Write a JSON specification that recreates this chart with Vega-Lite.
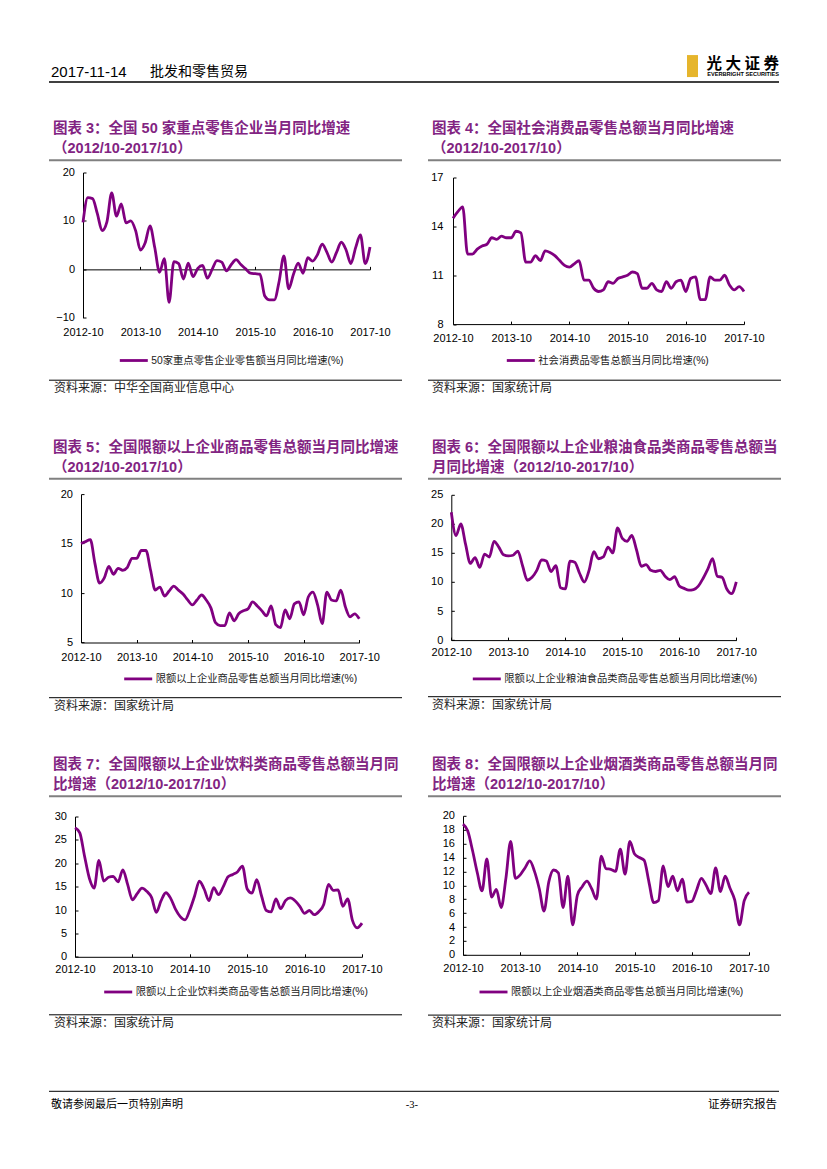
{
  "$schema": "https://vega.github.io/schema/vega-lite/v6.json",
  "background": "white",
  "padding": {"left": 48, "top": 55, "right": 40, "bottom": 30},
  "config": {
    "view": {"stroke": null},
    "font": "Liberation Sans, Noto Sans CJK SC",
    "axis": {"title": null, "grid": false, "domainColor": "#000000", "domainWidth": 1, "tickColor": "#000000", "tickWidth": 1, "tickSize": -3, "labelColor": "#000000", "labelFont": "Liberation Sans", "labelFontSize": 11, "labelOverlap": false},
    "axisX": {"labelAngle": 0, "labelPadding": 10.5},
    "axisY": {"labelPadding": 11.5, "minExtent": 0},
    "legend": {"symbolType": "stroke", "symbolSize": 784, "symbolStrokeWidth": 3, "labelFont": "Liberation Sans, Noto Sans CJK SC", "labelFontSize": 10.3, "labelColor": "#1a1a1a", "padding": 0, "labelOffset": 2, "labelLimit": 400},
    "title": {"anchor": "start", "frame": "group", "color": "#822482", "font": "Liberation Sans, Noto Sans CJK SC", "fontSize": 14.5, "fontWeight": "bold", "lineHeight": 20, "offset": 2.5, "dx": 4},
    "line": {"interpolate": "monotone", "strokeWidth": 2.8}
  },
  "datasets": {
    "c3": [{"m":"2012-10","v":9.7},{"m":"2012-11","v":14.8},{"m":"2012-12","v":14.6},{"m":"2013-01","v":11.5},{"m":"2013-02","v":8.0},{"m":"2013-03","v":9.8},{"m":"2013-04","v":15.8},{"m":"2013-05","v":11.0},{"m":"2013-06","v":13.5},{"m":"2013-07","v":9.6},{"m":"2013-08","v":10.0},{"m":"2013-09","v":8.0},{"m":"2013-10","v":4.0},{"m":"2013-11","v":5.5},{"m":"2013-12","v":9.0},{"m":"2014-01","v":4.5},{"m":"2014-02","v":-0.6},{"m":"2014-03","v":2.2},{"m":"2014-04","v":-6.8},{"m":"2014-05","v":1.6},{"m":"2014-06","v":1.2},{"m":"2014-07","v":-2.0},{"m":"2014-08","v":1.3},{"m":"2014-09","v":-1.5},{"m":"2014-10","v":0.2},{"m":"2014-11","v":0.8},{"m":"2014-12","v":-1.8},{"m":"2015-01","v":0.0},{"m":"2015-02","v":1.8},{"m":"2015-03","v":1.5},{"m":"2015-04","v":-0.3},{"m":"2015-05","v":1.0},{"m":"2015-06","v":2.0},{"m":"2015-07","v":1.0},{"m":"2015-08","v":0.1},{"m":"2015-09","v":-0.8},{"m":"2015-10","v":-0.9},{"m":"2015-11","v":-1.0},{"m":"2015-12","v":-5.5},{"m":"2016-01","v":-6.3},{"m":"2016-02","v":-6.3},{"m":"2016-03","v":-2.5},{"m":"2016-04","v":2.8},{"m":"2016-05","v":-4.0},{"m":"2016-06","v":-1.0},{"m":"2016-07","v":1.3},{"m":"2016-08","v":-0.8},{"m":"2016-09","v":2.4},{"m":"2016-10","v":1.7},{"m":"2016-11","v":3.0},{"m":"2016-12","v":5.2},{"m":"2017-01","v":3.5},{"m":"2017-02","v":1.5},{"m":"2017-03","v":3.5},{"m":"2017-04","v":5.6},{"m":"2017-05","v":4.0},{"m":"2017-06","v":1.2},{"m":"2017-07","v":4.5},{"m":"2017-08","v":7.1},{"m":"2017-09","v":1.2},{"m":"2017-10","v":4.6}],
    "c4": [{"m":"2012-10","v":14.5},{"m":"2012-11","v":14.9},{"m":"2012-12","v":15.2},{"m":"2013-01","v":12.3},{"m":"2013-02","v":12.3},{"m":"2013-03","v":12.6},{"m":"2013-04","v":12.8},{"m":"2013-05","v":12.9},{"m":"2013-06","v":13.3},{"m":"2013-07","v":13.2},{"m":"2013-08","v":13.4},{"m":"2013-09","v":13.3},{"m":"2013-10","v":13.3},{"m":"2013-11","v":13.7},{"m":"2013-12","v":13.6},{"m":"2014-01","v":11.8},{"m":"2014-02","v":11.8},{"m":"2014-03","v":12.2},{"m":"2014-04","v":11.9},{"m":"2014-05","v":12.5},{"m":"2014-06","v":12.4},{"m":"2014-07","v":12.2},{"m":"2014-08","v":11.9},{"m":"2014-09","v":11.6},{"m":"2014-10","v":11.5},{"m":"2014-11","v":11.7},{"m":"2014-12","v":11.9},{"m":"2015-01","v":10.7},{"m":"2015-02","v":10.7},{"m":"2015-03","v":10.2},{"m":"2015-04","v":10.0},{"m":"2015-05","v":10.1},{"m":"2015-06","v":10.6},{"m":"2015-07","v":10.5},{"m":"2015-08","v":10.8},{"m":"2015-09","v":10.9},{"m":"2015-10","v":11.0},{"m":"2015-11","v":11.2},{"m":"2015-12","v":11.1},{"m":"2016-01","v":10.2},{"m":"2016-02","v":10.2},{"m":"2016-03","v":10.5},{"m":"2016-04","v":10.1},{"m":"2016-05","v":10.0},{"m":"2016-06","v":10.6},{"m":"2016-07","v":10.2},{"m":"2016-08","v":10.6},{"m":"2016-09","v":10.7},{"m":"2016-10","v":10.0},{"m":"2016-11","v":10.8},{"m":"2016-12","v":10.9},{"m":"2017-01","v":9.5},{"m":"2017-02","v":9.5},{"m":"2017-03","v":10.9},{"m":"2017-04","v":10.7},{"m":"2017-05","v":10.7},{"m":"2017-06","v":11.0},{"m":"2017-07","v":10.4},{"m":"2017-08","v":10.1},{"m":"2017-09","v":10.3},{"m":"2017-10","v":10.0}],
    "c5": [{"m":"2012-10","v":15.0},{"m":"2012-11","v":15.2},{"m":"2012-12","v":15.4},{"m":"2013-01","v":13.0},{"m":"2013-02","v":11.0},{"m":"2013-03","v":11.5},{"m":"2013-04","v":12.7},{"m":"2013-05","v":11.9},{"m":"2013-06","v":12.5},{"m":"2013-07","v":12.3},{"m":"2013-08","v":12.6},{"m":"2013-09","v":13.5},{"m":"2013-10","v":13.5},{"m":"2013-11","v":14.3},{"m":"2013-12","v":14.3},{"m":"2014-01","v":12.3},{"m":"2014-02","v":10.3},{"m":"2014-03","v":10.6},{"m":"2014-04","v":9.7},{"m":"2014-05","v":10.2},{"m":"2014-06","v":10.7},{"m":"2014-07","v":10.3},{"m":"2014-08","v":9.9},{"m":"2014-09","v":9.3},{"m":"2014-10","v":8.8},{"m":"2014-11","v":9.3},{"m":"2014-12","v":9.8},{"m":"2015-01","v":9.3},{"m":"2015-02","v":8.5},{"m":"2015-03","v":7.0},{"m":"2015-04","v":6.7},{"m":"2015-05","v":6.7},{"m":"2015-06","v":8.0},{"m":"2015-07","v":7.2},{"m":"2015-08","v":7.9},{"m":"2015-09","v":8.2},{"m":"2015-10","v":8.4},{"m":"2015-11","v":9.1},{"m":"2015-12","v":8.7},{"m":"2016-01","v":8.2},{"m":"2016-02","v":7.7},{"m":"2016-03","v":8.7},{"m":"2016-04","v":6.8},{"m":"2016-05","v":6.5},{"m":"2016-06","v":8.3},{"m":"2016-07","v":7.4},{"m":"2016-08","v":8.9},{"m":"2016-09","v":9.1},{"m":"2016-10","v":7.8},{"m":"2016-11","v":9.6},{"m":"2016-12","v":10.1},{"m":"2017-01","v":8.8},{"m":"2017-02","v":6.9},{"m":"2017-03","v":10.1},{"m":"2017-04","v":9.3},{"m":"2017-05","v":9.2},{"m":"2017-06","v":10.3},{"m":"2017-07","v":8.6},{"m":"2017-08","v":7.6},{"m":"2017-09","v":7.9},{"m":"2017-10","v":7.4}],
    "c6": [{"m":"2012-10","v":22.0},{"m":"2012-11","v":18.0},{"m":"2012-12","v":20.0},{"m":"2013-01","v":16.5},{"m":"2013-02","v":13.2},{"m":"2013-03","v":14.2},{"m":"2013-04","v":12.5},{"m":"2013-05","v":14.8},{"m":"2013-06","v":14.3},{"m":"2013-07","v":17.0},{"m":"2013-08","v":16.0},{"m":"2013-09","v":14.7},{"m":"2013-10","v":14.5},{"m":"2013-11","v":14.6},{"m":"2013-12","v":15.3},{"m":"2014-01","v":12.8},{"m":"2014-02","v":10.3},{"m":"2014-03","v":10.8},{"m":"2014-04","v":12.0},{"m":"2014-05","v":13.8},{"m":"2014-06","v":13.6},{"m":"2014-07","v":11.8},{"m":"2014-08","v":12.8},{"m":"2014-09","v":9.0},{"m":"2014-10","v":8.8},{"m":"2014-11","v":13.6},{"m":"2014-12","v":13.4},{"m":"2015-01","v":11.5},{"m":"2015-02","v":10.0},{"m":"2015-03","v":12.0},{"m":"2015-04","v":15.2},{"m":"2015-05","v":14.0},{"m":"2015-06","v":14.3},{"m":"2015-07","v":16.0},{"m":"2015-08","v":15.0},{"m":"2015-09","v":19.3},{"m":"2015-10","v":17.5},{"m":"2015-11","v":17.0},{"m":"2015-12","v":18.0},{"m":"2016-01","v":15.5},{"m":"2016-02","v":12.7},{"m":"2016-03","v":13.0},{"m":"2016-04","v":12.0},{"m":"2016-05","v":11.8},{"m":"2016-06","v":12.0},{"m":"2016-07","v":11.0},{"m":"2016-08","v":10.4},{"m":"2016-09","v":10.9},{"m":"2016-10","v":9.3},{"m":"2016-11","v":8.9},{"m":"2016-12","v":8.6},{"m":"2017-01","v":8.7},{"m":"2017-02","v":9.3},{"m":"2017-03","v":10.6},{"m":"2017-04","v":12.2},{"m":"2017-05","v":14.0},{"m":"2017-06","v":11.0},{"m":"2017-07","v":10.8},{"m":"2017-08","v":8.8},{"m":"2017-09","v":8.0},{"m":"2017-10","v":10.0}],
    "c7": [{"m":"2012-10","v":27.6},{"m":"2012-11","v":26.5},{"m":"2012-12","v":21.5},{"m":"2013-01","v":16.8},{"m":"2013-02","v":14.7},{"m":"2013-03","v":20.6},{"m":"2013-04","v":16.2},{"m":"2013-05","v":17.0},{"m":"2013-06","v":17.2},{"m":"2013-07","v":16.0},{"m":"2013-08","v":18.6},{"m":"2013-09","v":15.5},{"m":"2013-10","v":12.2},{"m":"2013-11","v":13.5},{"m":"2013-12","v":14.7},{"m":"2014-01","v":14.0},{"m":"2014-02","v":12.7},{"m":"2014-03","v":9.5},{"m":"2014-04","v":12.0},{"m":"2014-05","v":13.7},{"m":"2014-06","v":12.5},{"m":"2014-07","v":10.2},{"m":"2014-08","v":8.6},{"m":"2014-09","v":7.9},{"m":"2014-10","v":10.0},{"m":"2014-11","v":13.0},{"m":"2014-12","v":16.2},{"m":"2015-01","v":14.5},{"m":"2015-02","v":12.0},{"m":"2015-03","v":14.8},{"m":"2015-04","v":13.3},{"m":"2015-05","v":15.0},{"m":"2015-06","v":17.1},{"m":"2015-07","v":17.6},{"m":"2015-08","v":18.2},{"m":"2015-09","v":19.4},{"m":"2015-10","v":14.5},{"m":"2015-11","v":13.6},{"m":"2015-12","v":16.5},{"m":"2016-01","v":13.0},{"m":"2016-02","v":9.9},{"m":"2016-03","v":9.6},{"m":"2016-04","v":12.4},{"m":"2016-05","v":10.3},{"m":"2016-06","v":12.0},{"m":"2016-07","v":12.6},{"m":"2016-08","v":12.0},{"m":"2016-09","v":10.8},{"m":"2016-10","v":9.3},{"m":"2016-11","v":9.9},{"m":"2016-12","v":9.0},{"m":"2017-01","v":9.7},{"m":"2017-02","v":11.2},{"m":"2017-03","v":15.5},{"m":"2017-04","v":14.2},{"m":"2017-05","v":14.3},{"m":"2017-06","v":10.8},{"m":"2017-07","v":12.4},{"m":"2017-08","v":7.8},{"m":"2017-09","v":6.2},{"m":"2017-10","v":7.2}],
    "c8": [{"m":"2012-10","v":18.8},{"m":"2012-11","v":17.8},{"m":"2012-12","v":15.0},{"m":"2013-01","v":11.8},{"m":"2013-02","v":9.2},{"m":"2013-03","v":13.8},{"m":"2013-04","v":8.3},{"m":"2013-05","v":9.4},{"m":"2013-06","v":6.8},{"m":"2013-07","v":11.0},{"m":"2013-08","v":16.3},{"m":"2013-09","v":11.0},{"m":"2013-10","v":11.5},{"m":"2013-11","v":12.5},{"m":"2013-12","v":13.5},{"m":"2014-01","v":12.0},{"m":"2014-02","v":9.5},{"m":"2014-03","v":6.3},{"m":"2014-04","v":10.5},{"m":"2014-05","v":12.2},{"m":"2014-06","v":11.8},{"m":"2014-07","v":6.8},{"m":"2014-08","v":11.3},{"m":"2014-09","v":4.3},{"m":"2014-10","v":8.6},{"m":"2014-11","v":9.8},{"m":"2014-12","v":10.6},{"m":"2015-01","v":9.5},{"m":"2015-02","v":8.0},{"m":"2015-03","v":14.2},{"m":"2015-04","v":12.4},{"m":"2015-05","v":12.3},{"m":"2015-06","v":12.0},{"m":"2015-07","v":15.2},{"m":"2015-08","v":11.6},{"m":"2015-09","v":16.3},{"m":"2015-10","v":14.5},{"m":"2015-11","v":14.0},{"m":"2015-12","v":13.6},{"m":"2016-01","v":10.5},{"m":"2016-02","v":7.5},{"m":"2016-03","v":7.8},{"m":"2016-04","v":12.8},{"m":"2016-05","v":9.8},{"m":"2016-06","v":11.3},{"m":"2016-07","v":9.2},{"m":"2016-08","v":10.9},{"m":"2016-09","v":7.6},{"m":"2016-10","v":7.7},{"m":"2016-11","v":9.3},{"m":"2016-12","v":11.0},{"m":"2017-01","v":10.0},{"m":"2017-02","v":8.8},{"m":"2017-03","v":12.5},{"m":"2017-04","v":9.1},{"m":"2017-05","v":11.3},{"m":"2017-06","v":9.6},{"m":"2017-07","v":7.9},{"m":"2017-08","v":4.3},{"m":"2017-09","v":7.8},{"m":"2017-10","v":9.0}]
  },
  "resolve": {"scale": {"x": "independent", "y": "independent", "color": "independent"}, "legend": {"color": "independent"}},
  "spacing": 38.3,
  "vconcat": [
    {
      "width": 730, "height": 27,
      "layer": [
        {"data": {"values": [{}]}, "mark": {"type": "rule", "color": "#000000", "strokeWidth": 1.5}, "encoding": {"y": {"datum": 0, "type": "quantitative", "scale": {"domain": [0, 1]}, "axis": null}}},
        {"data": {"values": [{"t": "2017-11-14"}]}, "mark": {"type": "text", "align": "left", "baseline": "middle", "font": "Liberation Sans", "fontSize": 15, "color": "#000000", "dx": 2}, "encoding": {"x": {"datum": 0, "type": "quantitative", "scale": {"domain": [0, 1]}, "axis": null}, "y": {"datum": 0.37, "type": "quantitative"}, "text": {"field": "t"}}},
        {"data": {"values": [{"t": "批发和零售贸易"}]}, "mark": {"type": "text", "align": "left", "baseline": "middle", "font": "Noto Sans CJK SC", "fontSize": 14, "color": "#000000", "dx": 101}, "encoding": {"x": {"datum": 0, "type": "quantitative"}, "y": {"datum": 0.37, "type": "quantitative"}, "text": {"field": "t"}}},
        {"data": {"values": [{"t": "光大证券"}]}, "mark": {"type": "point", "shape": "M-0.5,-1H0.5V1H-0.5Z", "size": 484, "filled": true, "color": "#E6B52C", "opacity": 1}, "encoding": {"x": {"datum": 0.8815, "type": "quantitative"}, "y": {"datum": 0.59, "type": "quantitative"}}},
        {"data": {"values": [{"t": "光 大 证 券"}]}, "mark": {"type": "text", "align": "right", "baseline": "middle", "font": "Noto Sans CJK SC", "fontSize": 15.5, "fontWeight": "bold", "color": "#000000"}, "encoding": {"x": {"datum": 1, "type": "quantitative"}, "y": {"datum": 0.68, "type": "quantitative"}, "text": {"field": "t"}}},
        {"data": {"values": [{"t": "EVERBRIGHT SECURITIES"}]}, "mark": {"type": "text", "align": "right", "baseline": "middle", "font": "Liberation Sans", "fontSize": 5.6, "fontWeight": "bold", "color": "#000000"}, "encoding": {"x": {"datum": 1, "type": "quantitative"}, "y": {"datum": 0.29, "type": "quantitative"}, "text": {"field": "t"}}}
      ]
    },
    {
      "resolve": {"scale": {"x": "independent", "y": "independent", "color": "independent"}, "legend": {"color": "independent"}},
      "spacing": 61,
      "vconcat": [
        {
          "resolve": {"scale": {"x": "independent", "y": "independent", "color": "independent"}, "legend": {"color": "independent"}},
          "spacing": 45.5,
          "vconcat": [
            {
              "resolve": {"scale": {"x": "independent", "y": "independent", "color": "independent"}, "legend": {"color": "independent"}},
              "spacing": 24,
              "hconcat": [
                {
                  "columns": 1, "spacing": 5.2,
                  "resolve": {"scale": {"x": "independent", "y": "independent", "color": "independent"}, "legend": {"color": "independent"}},
                  "concat": [
                    {"data": {"values": [{}]}, "width": 353, "height": 1, "title": {"text": ["图表 3：全国 50 家重点零售企业当月同比增速", "（2012/10-2017/10）"]}, "mark": {"type": "rule", "color": "#808080", "strokeWidth": 2}, "encoding": {"y": {"datum": 0, "type": "quantitative", "scale": {"domain": [0, 1]}, "axis": null}}},
                    {
                      "columns": 1, "spacing": 11.7,
                      "resolve": {"scale": {"x": "independent", "y": "independent", "color": "independent"}, "legend": {"color": "independent"}},
                      "concat": [
                        {
                          "data": {"name": "c3"}, "width": 353, "height": 145.3, "mark": "line",
                          "encoding": {
                            "x": {"field": "m", "type": "ordinal", "scale": {"type": "point", "padding": 0, "range": [34, 321]}, "axis": {"values": ["2012-10", "2013-10", "2014-10", "2015-10", "2016-10", "2017-10"], "offset": -48.43, "labelPadding": 59.7}},
                            "y": {"field": "v", "type": "quantitative", "scale": {"domain": [-10, 20], "nice": false, "zero": false}, "axis": {"values": [-10, 0, 10, 20], "offset": -34}},
                            "color": {"datum": "50家重点零售企业零售额当月同比增速(%)", "type": "nominal", "scale": {"range": ["#800080"]}, "legend": {"orient": "none", "legendX": 69.3, "legendY": 172.5, "title": null}}
                          }
                        },
                        {"data": {"values": [{}]}, "width": 353, "height": 2, "title": {"text": "资料来源：中华全国商业信息中心", "orient": "bottom", "font": "Noto Sans CJK SC", "fontSize": 12, "fontWeight": "normal", "color": "#222222", "offset": 1, "dx": 5}, "mark": {"type": "rule", "color": "#000000", "strokeWidth": 1}, "encoding": {"y": {"datum": 1, "type": "quantitative", "scale": {"domain": [0, 1]}, "axis": null}}}
                      ]
                    }
                  ]
                },
                {
                  "columns": 1, "spacing": 10.2,
                  "resolve": {"scale": {"x": "independent", "y": "independent", "color": "independent"}, "legend": {"color": "independent"}},
                  "concat": [
                    {"data": {"values": [{}]}, "width": 353, "height": 1, "title": {"text": ["图表 4：全国社会消费品零售总额当月同比增速", "（2012/10-2017/10）"]}, "mark": {"type": "rule", "color": "#808080", "strokeWidth": 2}, "encoding": {"y": {"datum": 0, "type": "quantitative", "scale": {"domain": [0, 1]}, "axis": null}}},
                    {
                      "columns": 1, "spacing": 11.7,
                      "resolve": {"scale": {"x": "independent", "y": "independent", "color": "independent"}, "legend": {"color": "independent"}},
                      "concat": [
                        {
                          "data": {"name": "c4"}, "width": 353, "height": 146.6, "mark": "line",
                          "encoding": {
                            "x": {"field": "m", "type": "ordinal", "scale": {"type": "point", "padding": 0, "range": [25, 316]}, "axis": {"values": ["2012-10", "2013-10", "2014-10", "2015-10", "2016-10", "2017-10"], "labelPadding": 11}},
                            "y": {"field": "v", "type": "quantitative", "scale": {"domain": [8, 17], "nice": false, "zero": false}, "axis": {"values": [8, 11, 14, 17], "offset": -25, "labelPadding": 13}},
                            "color": {"datum": "社会消费品零售总额当月同比增速(%)", "type": "nominal", "scale": {"range": ["#800080"]}, "legend": {"orient": "none", "legendX": 77.3, "legendY": 167.5, "title": null}}
                          }
                        },
                        {"data": {"values": [{}]}, "width": 353, "height": 2, "title": {"text": "资料来源：国家统计局", "orient": "bottom", "font": "Noto Sans CJK SC", "fontSize": 12, "fontWeight": "normal", "color": "#222222", "offset": 1, "dx": 4}, "mark": {"type": "rule", "color": "#000000", "strokeWidth": 1}, "encoding": {"y": {"datum": 1, "type": "quantitative", "scale": {"domain": [0, 1]}, "axis": null}}}
                      ]
                    }
                  ]
                }
              ]
            },
            {
              "resolve": {"scale": {"x": "independent", "y": "independent", "color": "independent"}, "legend": {"color": "independent"}},
              "spacing": 24,
              "hconcat": [
                {
                  "columns": 1, "spacing": 8.3,
                  "resolve": {"scale": {"x": "independent", "y": "independent", "color": "independent"}, "legend": {"color": "independent"}},
                  "concat": [
                    {"data": {"values": [{}]}, "width": 353, "height": 1, "title": {"text": ["图表 5：全国限额以上企业商品零售总额当月同比增速", "（2012/10-2017/10）"]}, "mark": {"type": "rule", "color": "#808080", "strokeWidth": 2}, "encoding": {"y": {"datum": 0, "type": "quantitative", "scale": {"domain": [0, 1]}, "axis": null}}},
                    {
                      "columns": 1, "spacing": 10.6,
                      "resolve": {"scale": {"x": "independent", "y": "independent", "color": "independent"}, "legend": {"color": "independent"}},
                      "concat": [
                        {
                          "data": {"name": "c5"}, "width": 353, "height": 148.4, "mark": "line",
                          "encoding": {
                            "x": {"field": "m", "type": "ordinal", "scale": {"type": "point", "padding": 0, "range": [32, 310.3]}, "axis": {"values": ["2012-10", "2013-10", "2014-10", "2015-10", "2016-10", "2017-10"], "labelPadding": 11.6}},
                            "y": {"field": "v", "type": "quantitative", "scale": {"domain": [5, 20], "nice": false, "zero": false}, "axis": {"values": [5, 10, 15, 20], "offset": -32}},
                            "color": {"datum": "限额以上企业商品零售总额当月同比增速(%)", "type": "nominal", "scale": {"range": ["#800080"]}, "legend": {"orient": "none", "legendX": 73.7, "legendY": 169.3, "title": null}}
                          }
                        },
                        {"data": {"values": [{}]}, "width": 353, "height": 2, "title": {"text": "资料来源：国家统计局", "orient": "bottom", "font": "Noto Sans CJK SC", "fontSize": 12, "fontWeight": "normal", "color": "#222222", "offset": 1, "dx": 5}, "mark": {"type": "rule", "color": "#000000", "strokeWidth": 1}, "encoding": {"y": {"datum": 1, "type": "quantitative", "scale": {"domain": [0, 1]}, "axis": null}}}
                      ]
                    }
                  ]
                },
                {
                  "columns": 1, "spacing": 9.0,
                  "resolve": {"scale": {"x": "independent", "y": "independent", "color": "independent"}, "legend": {"color": "independent"}},
                  "concat": [
                    {"data": {"values": [{}]}, "width": 353, "height": 1, "title": {"text": ["图表 6：全国限额以上企业粮油食品类商品零售总额当", "月同比增速（2012/10-2017/10）"]}, "mark": {"type": "rule", "color": "#808080", "strokeWidth": 2}, "encoding": {"y": {"datum": 0, "type": "quantitative", "scale": {"domain": [0, 1]}, "axis": null}}},
                    {
                      "columns": 1, "spacing": 9.9,
                      "resolve": {"scale": {"x": "independent", "y": "independent", "color": "independent"}, "legend": {"color": "independent"}},
                      "concat": [
                        {
                          "data": {"name": "c6"}, "width": 353, "height": 145.3, "mark": "line",
                          "encoding": {
                            "x": {"field": "m", "type": "ordinal", "scale": {"type": "point", "padding": 0, "range": [23.3, 308.3]}, "axis": {"values": ["2012-10", "2013-10", "2014-10", "2015-10", "2016-10", "2017-10"], "labelPadding": 9.7}},
                            "y": {"field": "v", "type": "quantitative", "scale": {"domain": [0, 25], "nice": false, "zero": false}, "axis": {"values": [0, 5, 10, 15, 20, 25], "offset": -23.3}},
                            "color": {"datum": "限额以上企业粮油食品类商品零售总额当月同比增速(%)", "type": "nominal", "scale": {"range": ["#800080"]}, "legend": {"orient": "none", "legendX": 43.3, "legendY": 168.6, "title": null}}
                          }
                        },
                        {"data": {"values": [{}]}, "width": 353, "height": 2, "title": {"text": "资料来源：国家统计局", "orient": "bottom", "font": "Noto Sans CJK SC", "fontSize": 12, "fontWeight": "normal", "color": "#222222", "offset": 1, "dx": 4}, "mark": {"type": "rule", "color": "#000000", "strokeWidth": 1}, "encoding": {"y": {"datum": 1, "type": "quantitative", "scale": {"domain": [0, 1]}, "axis": null}}}
                      ]
                    }
                  ]
                }
              ]
            },
            {
              "resolve": {"scale": {"x": "independent", "y": "independent", "color": "independent"}, "legend": {"color": "independent"}},
              "spacing": 24,
              "hconcat": [
                {
                  "columns": 1, "spacing": 13.2,
                  "resolve": {"scale": {"x": "independent", "y": "independent", "color": "independent"}, "legend": {"color": "independent"}},
                  "concat": [
                    {"data": {"values": [{}]}, "width": 353, "height": 1, "title": {"text": ["图表 7：全国限额以上企业饮料类商品零售总额当月同", "比增速（2012/10-2017/10）"]}, "mark": {"type": "rule", "color": "#808080", "strokeWidth": 2}, "encoding": {"y": {"datum": 0, "type": "quantitative", "scale": {"domain": [0, 1]}, "axis": null}}},
                    {
                      "columns": 1, "spacing": 15.3,
                      "resolve": {"scale": {"x": "independent", "y": "independent", "color": "independent"}, "legend": {"color": "independent"}},
                      "concat": [
                        {
                          "data": {"name": "c7"}, "width": 353, "height": 140.3, "mark": "line",
                          "encoding": {
                            "x": {"field": "m", "type": "ordinal", "scale": {"type": "point", "padding": 0, "range": [26, 313]}, "axis": {"values": ["2012-10", "2013-10", "2014-10", "2015-10", "2016-10", "2017-10"], "labelPadding": 9.7}},
                            "y": {"field": "v", "type": "quantitative", "scale": {"domain": [0, 30], "nice": false, "zero": false}, "axis": {"values": [0, 5, 10, 15, 20, 25, 30], "offset": -26}},
                            "color": {"datum": "限额以上企业饮料类商品零售总额当月同比增速(%)", "type": "nominal", "scale": {"range": ["#800080"]}, "legend": {"orient": "none", "legendX": 53.7, "legendY": 160, "title": null}}
                          }
                        },
                        {"data": {"values": [{}]}, "width": 353, "height": 2, "title": {"text": "资料来源：国家统计局", "orient": "bottom", "font": "Noto Sans CJK SC", "fontSize": 12, "fontWeight": "normal", "color": "#222222", "offset": 1, "dx": 5}, "mark": {"type": "rule", "color": "#000000", "strokeWidth": 1}, "encoding": {"y": {"datum": 1, "type": "quantitative", "scale": {"domain": [0, 1]}, "axis": null}}}
                      ]
                    }
                  ]
                },
                {
                  "columns": 1, "spacing": 12.5,
                  "resolve": {"scale": {"x": "independent", "y": "independent", "color": "independent"}, "legend": {"color": "independent"}},
                  "concat": [
                    {"data": {"values": [{}]}, "width": 353, "height": 1, "title": {"text": ["图表 8：全国限额以上企业烟酒类商品零售总额当月同", "比增速（2012/10-2017/10）"]}, "mark": {"type": "rule", "color": "#808080", "strokeWidth": 2}, "encoding": {"y": {"datum": 0, "type": "quantitative", "scale": {"domain": [0, 1]}, "axis": null}}},
                    {
                      "columns": 1, "spacing": 15.3,
                      "resolve": {"scale": {"x": "independent", "y": "independent", "color": "independent"}, "legend": {"color": "independent"}},
                      "concat": [
                        {
                          "data": {"name": "c8"}, "width": 353, "height": 139, "mark": "line",
                          "encoding": {
                            "x": {"field": "m", "type": "ordinal", "scale": {"type": "point", "padding": 0, "range": [35, 321]}, "axis": {"values": ["2012-10", "2013-10", "2014-10", "2015-10", "2016-10", "2017-10"], "labelPadding": 11}},
                            "y": {"field": "v", "type": "quantitative", "scale": {"domain": [0, 20], "nice": false, "zero": false}, "axis": {"values": [0, 2, 4, 6, 8, 10, 12, 14, 16, 18, 20], "offset": -35}},
                            "color": {"datum": "限额以上企业烟酒类商品零售总额当月同比增速(%)", "type": "nominal", "scale": {"range": ["#800080"]}, "legend": {"orient": "none", "legendX": 50, "legendY": 160.7, "title": null}}
                          }
                        },
                        {"data": {"values": [{}]}, "width": 353, "height": 2, "title": {"text": "资料来源：国家统计局", "orient": "bottom", "font": "Noto Sans CJK SC", "fontSize": 12, "fontWeight": "normal", "color": "#222222", "offset": 1, "dx": 4}, "mark": {"type": "rule", "color": "#000000", "strokeWidth": 1}, "encoding": {"y": {"datum": 1, "type": "quantitative", "scale": {"domain": [0, 1]}, "axis": null}}}
                      ]
                    }
                  ]
                }
              ]
            }
          ]
        },
        {
          "width": 730, "height": 16,
          "layer": [
            {"data": {"values": [{}]}, "mark": {"type": "rule", "color": "#000000", "strokeWidth": 1}, "encoding": {"y": {"datum": 1, "type": "quantitative", "scale": {"domain": [0, 1]}, "axis": null}}},
            {"data": {"values": [{"t": "敬请参阅最后一页特别声明"}]}, "mark": {"type": "text", "align": "left", "baseline": "middle", "font": "Noto Sans CJK SC", "fontSize": 11, "color": "#000000", "dx": 2}, "encoding": {"x": {"datum": 0, "type": "quantitative", "scale": {"domain": [0, 1]}, "axis": null}, "y": {"datum": 0.12, "type": "quantitative"}, "text": {"field": "t"}}},
            {"data": {"values": [{"t": "-3-"}]}, "mark": {"type": "text", "align": "center", "baseline": "middle", "font": "Liberation Serif", "fontSize": 10.5, "color": "#000000"}, "encoding": {"x": {"datum": 0.497, "type": "quantitative"}, "y": {"datum": 0.12, "type": "quantitative"}, "text": {"field": "t"}}},
            {"data": {"values": [{"t": "证券研究报告"}]}, "mark": {"type": "text", "align": "right", "baseline": "middle", "font": "Noto Sans CJK SC", "fontSize": 11.5, "color": "#000000", "dx": -2}, "encoding": {"x": {"datum": 1, "type": "quantitative"}, "y": {"datum": 0.12, "type": "quantitative"}, "text": {"field": "t"}}}
          ]
        }
      ]
    }
  ]
}
